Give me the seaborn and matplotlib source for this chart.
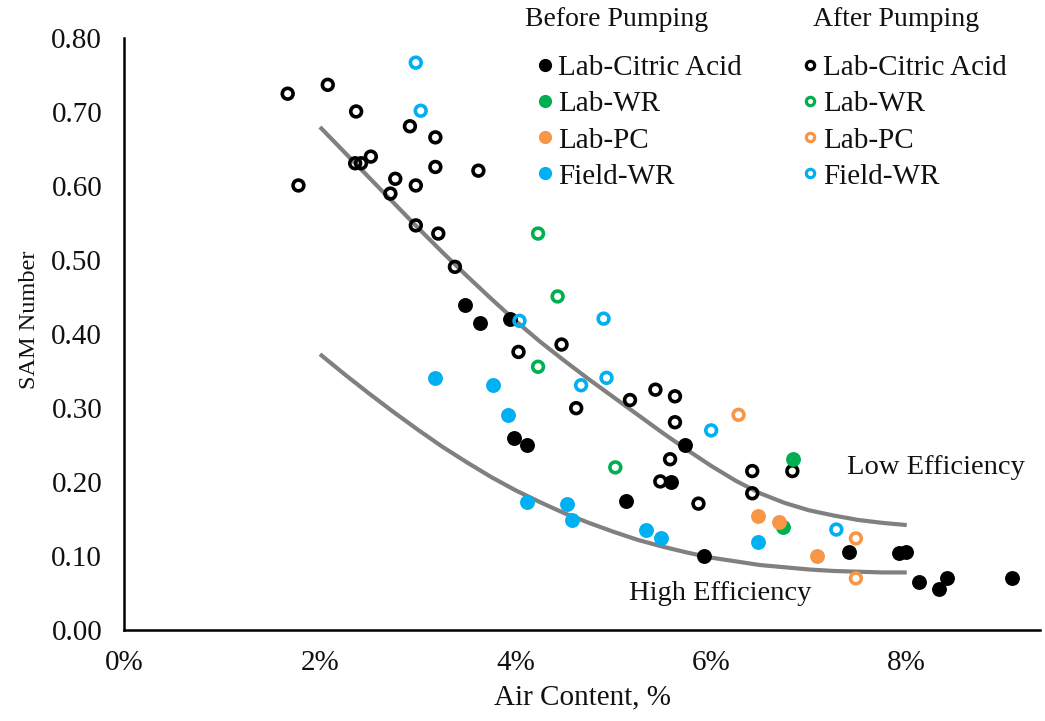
import numpy as np
import pandas as pd
import matplotlib
matplotlib.use("Agg")
import matplotlib.pyplot as plt
from matplotlib.lines import Line2D
from matplotlib.ticker import FuncFormatter
import seaborn as sns

# ---------------- data (air content in %, SAM number) ----------------
before_citric_x = [3.48, 3.64, 3.94, 3.98, 4.12, 5.13, 5.59, 5.73, 5.93, 7.41, 7.92, 7.99, 8.12, 8.33, 8.41, 9.08]
before_citric_y = [0.440, 0.415, 0.420, 0.260, 0.250, 0.175, 0.200, 0.250, 0.100, 0.105, 0.104, 0.106, 0.065, 0.055, 0.070, 0.070]

after_citric_x = [1.67, 2.08, 2.37, 2.92, 3.18, 2.36, 2.42, 2.52, 3.18, 3.62, 1.78, 2.77, 2.98, 2.72, 2.98, 3.21,
                  3.38, 4.03, 4.47, 4.62, 5.17, 5.43, 5.63, 5.63, 5.58, 5.48, 5.87, 6.42, 6.42, 6.83]
after_citric_y = [0.725, 0.737, 0.701, 0.681, 0.666, 0.631, 0.631, 0.640, 0.626, 0.621, 0.601, 0.610, 0.601, 0.590, 0.547, 0.536,
                  0.491, 0.376, 0.386, 0.300, 0.311, 0.325, 0.316, 0.281, 0.231, 0.201, 0.171, 0.215, 0.185, 0.215]

before_wr_x = [6.84, 6.73]
before_wr_y = [0.231, 0.139]
after_wr_x = [4.23, 4.43, 4.23, 5.02]
after_wr_y = [0.536, 0.451, 0.356, 0.220]

before_pc_x = [6.48, 6.69, 7.08]
before_pc_y = [0.154, 0.146, 0.100]
after_pc_x = [6.28, 7.48, 7.48]
after_pc_y = [0.291, 0.124, 0.070]

before_field_x = [3.18, 3.77, 3.92, 4.12, 4.53, 4.58, 5.33, 5.49, 6.48]
before_field_y = [0.341, 0.331, 0.291, 0.173, 0.171, 0.149, 0.135, 0.124, 0.119]
after_field_x = [2.98, 3.03, 4.04, 4.90, 4.67, 4.93, 6.00, 7.28]
after_field_y = [0.767, 0.702, 0.418, 0.421, 0.331, 0.341, 0.270, 0.136]

# trend curves
curve_x = [2.0, 2.25, 2.5, 2.75, 3.0, 3.25, 3.5, 3.75, 4.0, 4.25, 4.5, 4.75, 5.0,
           5.25, 5.5, 5.75, 6.0, 6.25, 6.5, 6.75, 7.0, 7.25, 7.5, 7.75, 8.0]
low_eff_y = [0.680, 0.646, 0.612, 0.578, 0.544, 0.511, 0.479, 0.448, 0.418, 0.390, 0.364, 0.339, 0.315,
             0.291, 0.267, 0.244, 0.222, 0.202, 0.185, 0.172, 0.162, 0.155, 0.149, 0.145, 0.142]
high_eff_y = [0.373, 0.346, 0.320, 0.295, 0.271, 0.248, 0.227, 0.207, 0.189, 0.173, 0.158, 0.145, 0.133,
              0.122, 0.113, 0.105, 0.098, 0.093, 0.088, 0.085, 0.082, 0.080, 0.079, 0.078, 0.078]

series_names = ["Lab-Citric Acid", "Lab-WR", "Lab-PC", "Field-WR"]
series_colors = ["#000000", "#00B050", "#F79646", "#00B0F0"]
headers = ["Before Pumping", "After Pumping"]

# ---------------- styling ----------------
sns.set_theme(style="white")
plt.rcParams["font.family"] = ["Liberation Serif", "DejaVu Serif"]
FS = 21
TXT = "#111111"

fig = plt.figure(figsize=(10.45, 7.21), dpi=100)
W, H = 1045.0, 721.0
ax = fig.add_axes([0.119, 0.126, 0.876, 0.821])

# curves (below markers)
curves = pd.DataFrame({"x": curve_x, "low": low_eff_y, "high": high_eff_y})
for col in ["low", "high"]:
    sns.lineplot(data=curves, x="x", y=col, ax=ax, color="#808080", linewidth=3.0, zorder=1,
                 solid_capstyle="butt", solid_joinstyle="round")

before = [(before_citric_x, before_citric_y), (before_wr_x, before_wr_y),
          (before_pc_x, before_pc_y), (before_field_x, before_field_y)]
after = [(after_citric_x, after_citric_y), (after_wr_x, after_wr_y),
         (after_pc_x, after_pc_y), (after_field_x, after_field_y)]

FILLED_S = 115
HOLLOW_S = 60
z = 3
for (bx, by), (axx, ayy), col in zip(before, after, series_colors):
    sns.scatterplot(x=bx, y=by, ax=ax, color=col, s=FILLED_S, linewidth=0, marker="o", zorder=z)
    z += 1
    sns.scatterplot(x=axx, y=ayy, ax=ax, color=col, facecolor="none", edgecolor=col,
                    s=HOLLOW_S, linewidth=2.6, marker="o", zorder=z)
    z += 1

ax.set_xlim(0, 9.36)
ax.set_ylim(0, 0.80)
ax.set_xticks([0, 2, 4, 6, 8])
ax.set_yticks(np.arange(0, 0.81, 0.1))
ax.xaxis.set_major_formatter(FuncFormatter(lambda v, p: f"{v:.0f}%"))
ax.yaxis.set_major_formatter(FuncFormatter(lambda v, p: f"{v:.2f}"))
ax.tick_params(axis="both", length=0, labelsize=FS, colors=TXT)
ax.tick_params(axis="x", pad=14)
ax.tick_params(axis="y", pad=16)
for s in ["top", "right"]:
    ax.spines[s].set_visible(False)
for s in ["left", "bottom"]:
    ax.spines[s].set_color("black")
    ax.spines[s].set_linewidth(1.8)
ax.grid(False)
ax.set_xlabel("Air Content, %", fontsize=FS, color=TXT, labelpad=6)
ax.set_ylabel("SAM Number", fontsize=17.5, color=TXT)
ax.yaxis.set_label_coords(-0.092, 0.524)

ax.text(7.39, 0.220, "Low Efficiency", fontsize=20.5, ha="left", va="center", color=TXT)
ax.text(5.16, 0.050, "High Efficiency", fontsize=20.5, ha="left", va="center", color=TXT)

# ---------------- legends ----------------
fig.text(525 / W, 1 - 20 / H, headers[0], fontsize=20, ha="left", va="center", color=TXT)
fig.text(813 / W, 1 - 20 / H, headers[1], fontsize=20, ha="left", va="center", color=TXT)

h_before = [Line2D([], [], linestyle="none", marker="o", markersize=9.5, markerfacecolor=c,
                   markeredgewidth=0, color=c) for c in series_colors]
h_after = [Line2D([], [], linestyle="none", marker="o", markersize=6.0, markerfacecolor="none",
                  markeredgecolor=c, markeredgewidth=2.3) for c in series_colors]

leg_kw = dict(frameon=False, fontsize=FS, handlelength=0.6, handletextpad=0.15,
              labelspacing=0.33, borderaxespad=0, borderpad=0, loc="upper left")
leg1 = fig.legend(h_before, series_names, bbox_to_anchor=(536 / W, 1 - 55 / H), **leg_kw)
leg2 = fig.legend(h_after, series_names, bbox_to_anchor=(801 / W, 1 - 55 / H), **leg_kw)
for lg in (leg1, leg2):
    for t in lg.get_texts():
        t.set_color(TXT)

fig.savefig("out.png", dpi=100)
